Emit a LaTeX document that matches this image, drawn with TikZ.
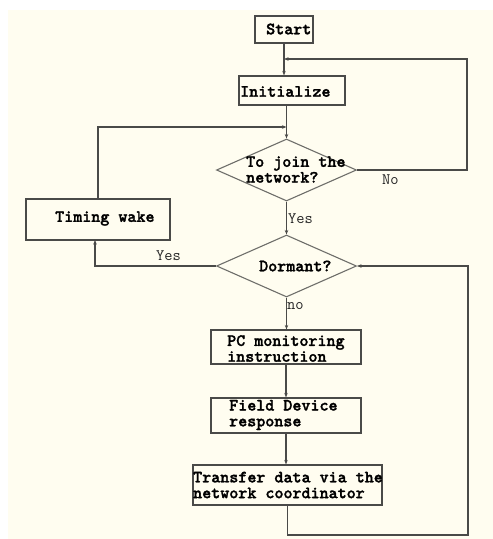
\documentclass[tikz,border=0pt]{standalone}
\usepackage{fontspec}
\newfontfamily\heavymono{lmmonolt10-bold}[Extension=.otf,FakeBold=1.6]
\usetikzlibrary{arrows.meta,shapes.geometric,calc}
\definecolor{bgc}{HTML}{FFFDF0}
\definecolor{linec}{HTML}{4A4A48}
\definecolor{diac}{HTML}{6E6E6A}
\begin{document}
\begin{tikzpicture}[x=1pt,y=-1pt,
  box/.style={draw=linec,line width=1.2pt,inner sep=0pt},
  dia/.style={draw=diac,line width=1.1pt,diamond,inner sep=0pt},
  txt/.style={font=\heavymono\fontsize{17.2}{15.8}\selectfont,inner sep=0pt,anchor=west,align=left,text=black},
  lbl/.style={font=\ttfamily\fontsize{16}{15}\selectfont,inner sep=0pt,anchor=west,text=black!85},
  conn/.style={draw=linec,line width=1.1pt},
  arr/.style={conn,-{Stealth[length=4.5pt,width=3.5pt]}}]
\useasboundingbox (0,0) rectangle (493,539);
\fill[bgc] (8,10) rectangle (493,539);
% boxes
\node[box,minimum width=58pt,minimum height=27pt] (start) at (284,29.5) {};
\node[box,minimum width=106pt,minimum height=29pt] (init) at (292,90.5) {};
\node[dia,minimum width=140pt,minimum height=62pt] (d1) at (286.5,170) {};
\node[dia,minimum width=140pt,minimum height=62pt] (d2) at (286.5,266) {};
\node[box,minimum width=144pt,minimum height=41pt] (timing) at (98,219.5) {};
\node[box,minimum width=150pt,minimum height=34pt] (pc) at (286,347) {};
\node[box,minimum width=150pt,minimum height=35pt] (field) at (286,415.5) {};
\node[box,minimum width=189pt,minimum height=40pt] (trans) at (287.5,485) {};
% texts
\node[txt] (startT) at (266,29) {Start};
\node[txt] (initT) at (240,91.5) {Initialize};
\node[txt] (d1T) at (246,169.5) {To join the\\network?};
\node[txt] (d2T) at (259,266) {Dormant?};
\node[txt] (timingT) at (55,218.5) {Timing wake};
\node[txt] (pcT) at (227,348.5) {PC monitoring\\instruction};
\node[txt] (fieldT) at (229,415) {Field Device\\response};
\node[txt] (transT) at (193,485) {Transfer data via the\\network coordinator};
% labels
\node[lbl] (yes1) at (288,219) {Yes};
\node[lbl] (no1) at (382,180) {No};
\node[lbl] (yes2) at (156,256) {Yes};
\node[lbl] (no2) at (287,306) {no};
% junction coordinates
\coordinate (j1) at (284,59);
\coordinate (rtop) at (467,59);
\coordinate (j2) at (286.5,127);
\coordinate (tb) at (95,240);
\coordinate (br) at (468,535);
% connectors
\draw[arr] (start.south) -- (start.south |- init.north);
\draw[arr] (d1.east) -| (rtop) -- (j1);
\draw[arr] (d1.north |- init.south) -- (d1.north);
\draw[arr] (timing.north) |- (j2);
\draw[arr] (d1.south) -- (d2.north);
\draw[arr] (d2.west) -| (tb);
\draw[arr] (d2.south) -- (d2.south |- pc.north);
\draw[arr] (pc.south) -- (field.north);
\draw[arr] (field.south) -- (field.south |- trans.north);
\draw[arr] (trans.south) |- (br) |- (d2.east);
\end{tikzpicture}
\end{document}
